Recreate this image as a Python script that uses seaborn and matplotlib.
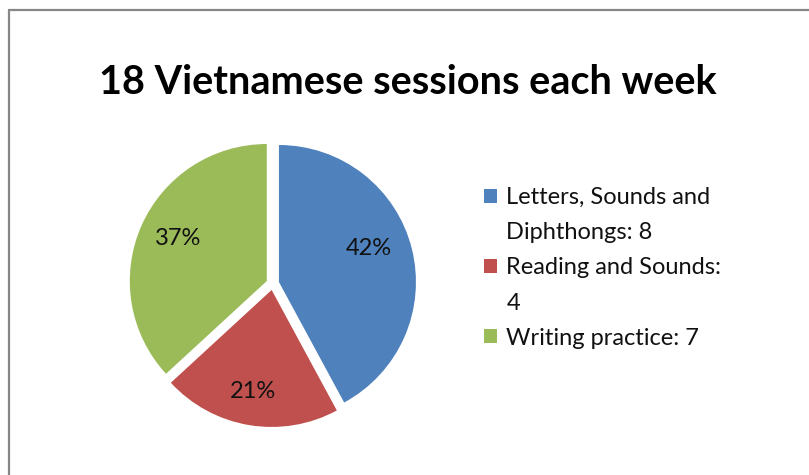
import matplotlib
matplotlib.use("Agg")
import matplotlib.pyplot as plt
from matplotlib.patches import Rectangle
import numpy as np
import seaborn as sns

sns.set_theme(style="white")
plt.rcParams['font.family'] = ['Lato', 'DejaVu Sans']

title = "18 Vietnamese sessions each week"
categories = ["Letters, Sounds and Diphthongs", "Reading and Sounds", "Writing practice"]
values = [8, 4, 7]
legend_lines = [["Letters, Sounds and", "Diphthongs: 8"],
                ["Reading and Sounds:", "4"],
                ["Writing practice: 7"]]
colors = ["#4F81BD", "#C0504D", "#9BBB59"]

W, H = 809, 475
fig = plt.figure(figsize=(W / 100, H / 100), dpi=100)

# border of the chart area
fig.add_artist(plt.Line2D([8.5 / W, 8.5 / W], [0, 1 - 9.5 / H], transform=fig.transFigure,
                          color="#878787", lw=1.6))
fig.add_artist(plt.Line2D([8.5 / W, 1], [1 - 9.5 / H, 1 - 9.5 / H], transform=fig.transFigure,
                          color="#878787", lw=1.6))

R = 137.0
cx, cy = 272.7, 283.6
half = 1.2 * R
ax = fig.add_axes([(cx - half) / W, (H - cy - half) / H, 2 * half / W, 2 * half / H])
wedges, texts, autotexts = ax.pie(values, colors=colors, startangle=90, counterclock=False,
                                  explode=[0.047] * 3, autopct="%1.0f%%", pctdistance=0.72,
                                  textprops=dict(fontsize=17, color="#111111"),
                                  wedgeprops=dict(linewidth=0))
ax.set_xlim(-1.2, 1.2)
ax.set_ylim(-1.2, 1.2)
ax.set_aspect("auto")

# label placement similar to the spreadsheet's data labels
label_r = [0.70, 0.757, 0.72]
label_shift = [6.0, -1.0, -1.6]
for w, t, r, s in zip(wedges, autotexts, label_r, label_shift):
    ang = np.deg2rad((w.theta1 + w.theta2) / 2 + s)
    x0, y0 = w.center
    t.set_position((x0 + r * np.cos(ang), y0 + r * np.sin(ang)))

fig.text(408 / W, 1 - 94 / H, title, ha="center", va="baseline", fontsize=28.5,
         fontweight="bold", color="#000000")

# legend
handles = []
labels = []
for col, lines in zip(colors, legend_lines):
    for i, ln in enumerate(lines):
        if i == 0:
            handles.append(Rectangle((0, 0), 1, 1, facecolor=col, edgecolor="none"))
        else:
            handles.append(Rectangle((0, 0), 1, 1, facecolor="none", edgecolor="none"))
        labels.append(ln)
leg = fig.legend(handles, labels, loc="upper left", bbox_to_anchor=(484 / W, 1 - 187 / H),
                 frameon=False, fontsize=17, handlelength=0.55, handleheight=0.55,
                 handletextpad=0.4, labelspacing=0.6, borderpad=0, borderaxespad=0)
for t in leg.get_texts():
    t.set_color("#111111")

fig.savefig("out.png", dpi=100, facecolor="white")
